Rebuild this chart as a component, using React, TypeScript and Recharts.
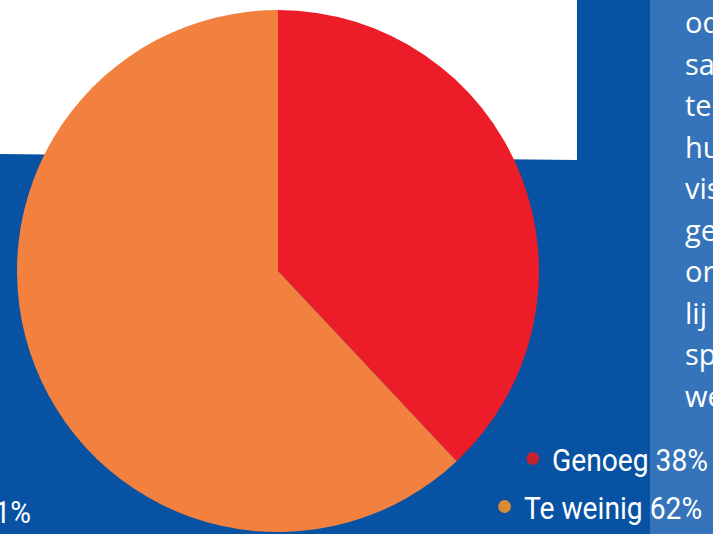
import { PieChart, Pie, Cell, Legend } from 'recharts';

const labels = ['Genoeg', 'Te weinig'];
const values = [38, 62];
const sliceColors = ['#ed1c29', '#f2803f'];
const dotColors = ['#c8202e', '#dc8b31'];

// text in the lighter column on the right, cut off by the page edge
const columnLines = ['od', 'sa', 'te', 'hu', 'vis', 'ge', 'or', 'lij', 'sp', 'we'];

const data = labels.map((name, i) => ({ name, value: values[i] }));

const W = 713;
const H = 534;
const SQUEEZE = 0.91; // no condensed face installed, so narrow Roboto by hand

function renderLegend() {
  return (
    <div
      style={{
        fontFamily: 'Roboto, sans-serif',
        fontSize: 31,
        color: '#fff',
        transform: `scaleX(${SQUEEZE})`,
        transformOrigin: 'right center',
      }}
    >
      {labels.map((name, i) => (
        <div
          key={name}
          style={{
            display: 'flex',
            alignItems: 'center',
            justifyContent: 'flex-end',
            height: 48,
            lineHeight: '48px',
            paddingRight: i === 0 ? 5.5 : 12,
          }}
        >
          <span
            style={{
              width: 14,
              height: 13,
              borderRadius: '50%',
              background: dotColors[i],
              marginRight: 14,
              position: 'relative',
              top: -3,
            }}
          />
          <span>{`${name} ${values[i]}%`}</span>
        </div>
      ))}
    </div>
  );
}

export default function App() {
  return (
    <div style={{ position: 'fixed', left: 0, top: 0, width: W, height: H, overflow: 'hidden' }}>
      <svg width={W} height={H} style={{ position: 'absolute', left: 0, top: 0 }}>
        <rect x={0} y={0} width={W} height={H} fill="#0752a3" />
        <polygon points="0,0 577,0 577,160 0,154" fill="#ffffff" />
        <rect x={650} y={0} width={W - 650} height={H} fill="#3574ba" />
        {columnLines.map((t, i) => (
          <text key={i} x={685} y={33 + 41.5 * i} fill="#fff" fontSize={29} fontFamily="'Open Sans', sans-serif">
            {t}
          </text>
        ))}
        <text
          x={31}
          y={523}
          fill="#fff"
          fontSize={31}
          fontFamily="Roboto, sans-serif"
          textAnchor="end"
          transform={`translate(31 0) scale(${SQUEEZE} 1) translate(-31 0)`}
        >
          1%
        </text>
      </svg>
      <div style={{ position: 'absolute', left: 0, top: 0 }}>
        <PieChart width={W} height={H} margin={{ top: 0, right: 0, bottom: 0, left: 0 }}>
          <Pie
            data={data}
            dataKey="value"
            nameKey="name"
            cx={278}
            cy={271}
            outerRadius={261}
            startAngle={90}
            endAngle={-270}
            stroke="none"
            isAnimationActive={false}
          >
            {data.map((d, i) => (
              <Cell key={d.name} fill={sliceColors[i]} />
            ))}
          </Pie>
          <Legend
            layout="vertical"
            align="right"
            verticalAlign="middle"
            content={renderLegend}
            wrapperStyle={{ top: 437, right: 0, left: 'auto', bottom: 'auto', width: 300 }}
          />
        </PieChart>
      </div>
    </div>
  );
}
